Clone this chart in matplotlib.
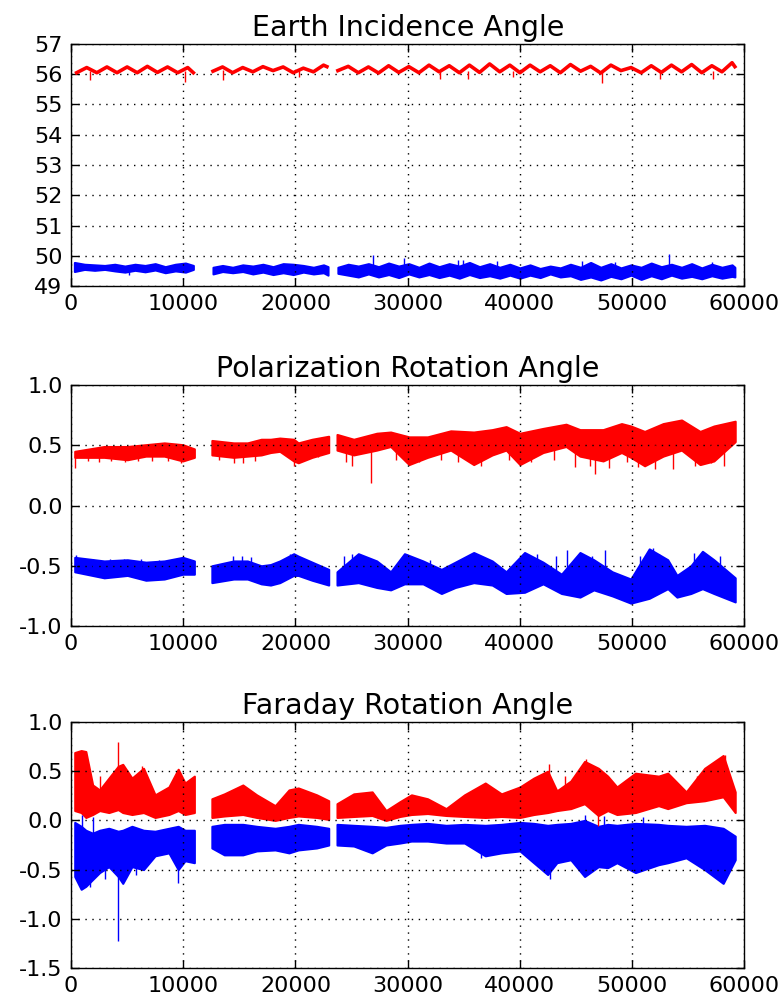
import numpy as np
import matplotlib
matplotlib.use("Agg")
import matplotlib.pyplot as plt

# ---------------- Earth Incidence Angle ----------------
eia_r_x1 = [500, 1400, 2300, 3200, 4100, 5000, 5900, 6800, 7700, 8600, 9500, 10400, 10900]
eia_r_y1 = [56.05, 56.22, 56.05, 56.24, 56.05, 56.24, 56.05, 56.26, 56.06, 56.24, 56.05, 56.22, 56.05]
eia_r_x2 = [12650, 13500, 14400, 15300, 16200, 17100, 18000, 18900, 19800, 20700, 21600, 22500, 22800]
eia_r_y2 = [56.10, 56.24, 56.05, 56.22, 56.08, 56.25, 56.12, 56.24, 56.05, 56.20, 56.08, 56.30, 56.25]
eia_r_x3 = [23780, 24700, 25600, 26500, 27400, 28300, 29200, 30100, 31000, 31900, 32800, 33700,
            34600, 35500, 36400, 37300, 38200, 39100, 40000, 40900, 41800, 42700, 43600, 44500,
            45400, 46300, 47200, 48100, 49000, 49900, 50800, 51700, 52600, 53500, 54400, 55300,
            56200, 57100, 58000, 58900, 59150]
eia_r_y3 = [56.12, 56.26, 56.05, 56.24, 56.04, 56.28, 56.06, 56.25, 56.05, 56.30, 56.08, 56.28,
            56.05, 56.30, 56.06, 56.34, 56.08, 56.30, 56.05, 56.30, 56.08, 56.28, 56.05, 56.32,
            56.10, 56.26, 56.04, 56.30, 56.12, 56.22, 56.05, 56.28, 56.06, 56.30, 56.08, 56.32,
            56.05, 56.28, 56.08, 56.38, 56.25]
eia_r_spk_x = [1700, 10150, 13500, 20300, 32900, 35400, 39400, 47300, 52500, 57200]
eia_r_spk_top = [56.10, 56.10, 56.15, 56.15, 56.10, 56.10, 56.10, 56.10, 56.10, 56.10]
eia_r_spk_bot = [55.80, 55.75, 55.82, 55.90, 55.85, 55.85, 55.90, 55.70, 55.85, 55.85]

eia_b_x1 = [300, 1200, 2100, 3000, 3900, 4800, 5700, 6600, 7500, 8400, 9300, 10200, 10900]
eia_b_hi1 = [49.78, 49.72, 49.70, 49.68, 49.72, 49.66, 49.72, 49.68, 49.74, 49.64, 49.72, 49.76, 49.68]
eia_b_lo1 = [49.48, 49.55, 49.52, 49.55, 49.50, 49.46, 49.52, 49.47, 49.53, 49.44, 49.50, 49.46, 49.55]
eia_b_x2 = [12650, 13500, 14400, 15300, 16200, 17100, 18000, 18900, 19800, 20700, 21600, 22500, 22900]
eia_b_hi2 = [49.62, 49.68, 49.62, 49.70, 49.66, 49.72, 49.64, 49.74, 49.72, 49.68, 49.62, 49.70, 49.64]
eia_b_lo2 = [49.40, 49.48, 49.44, 49.48, 49.40, 49.46, 49.38, 49.44, 49.38, 49.46, 49.40, 49.44, 49.36]
eia_b_x3 = eia_r_x3
eia_b_hi3 = [49.62, 49.72, 49.66, 49.74, 49.64, 49.76, 49.66, 49.74, 49.62, 49.76, 49.64, 49.74,
             49.66, 49.78, 49.64, 49.74, 49.62, 49.72, 49.60, 49.70, 49.58, 49.66, 49.60, 49.72,
             49.62, 49.78, 49.62, 49.74, 49.60, 49.70, 49.62, 49.76, 49.64, 49.72, 49.62, 49.74,
             49.60, 49.72, 49.62, 49.70, 49.62]
eia_b_lo3 = [49.42, 49.36, 49.30, 49.40, 49.30, 49.38, 49.28, 49.40, 49.30, 49.38, 49.28, 49.36,
             49.26, 49.38, 49.28, 49.34, 49.26, 49.36, 49.26, 49.36, 49.28, 49.40, 49.30, 49.34,
             49.22, 49.30, 49.20, 49.32, 49.24, 49.36, 49.22, 49.34, 49.24, 49.36, 49.26, 49.32,
             49.24, 49.34, 49.26, 49.32, 49.30]
eia_b_spk_x = [26900, 29700, 34500, 34900, 53300, 57100, 5200, 38000, 45500, 48500]
eia_b_spk_top = [50.02, 49.92, 49.87, 49.87, 50.05, 49.80, 49.55, 49.82, 49.82, 49.80]
eia_b_spk_bot = [49.60, 49.60, 49.60, 49.60, 49.60, 49.60, 49.35, 49.60, 49.60, 49.60]

# ---------------- Polarization Rotation Angle ----------------
pra_r_x1 = [330, 2960, 5020, 6670, 8310, 9960, 10990]
pra_r_hi1 = [0.45, 0.49, 0.49, 0.505, 0.52, 0.505, 0.47]
pra_r_lo1 = [0.40, 0.40, 0.38, 0.41, 0.41, 0.37, 0.40]
pra_r_x2 = [12550, 14490, 15720, 16950, 17780, 18600, 19840, 20250, 21480, 22960]
pra_r_hi2 = [0.54, 0.52, 0.52, 0.55, 0.55, 0.56, 0.55, 0.52, 0.55, 0.575]
pra_r_lo2 = [0.42, 0.40, 0.41, 0.42, 0.44, 0.45, 0.37, 0.355, 0.40, 0.44]
pra_r_x3 = [23700, 25190, 27240, 28480, 30120, 31770, 33830, 35880, 37530, 38770, 40000, 42060,
            44110, 45350, 47410, 49050, 49880, 51110, 52760, 54400, 56050, 57280, 59180]
pra_r_hi3 = [0.59, 0.55, 0.60, 0.61, 0.57, 0.57, 0.62, 0.61, 0.63, 0.655, 0.60, 0.64,
             0.675, 0.63, 0.63, 0.68, 0.66, 0.615, 0.68, 0.71, 0.615, 0.66, 0.70]
pra_r_lo3 = [0.46, 0.42, 0.46, 0.49, 0.34, 0.40, 0.46, 0.34, 0.42, 0.46, 0.34, 0.44,
             0.49, 0.41, 0.37, 0.44, 0.40, 0.33, 0.41, 0.46, 0.34, 0.37, 0.53]
pra_r_spk_x = [330, 1500, 2500, 3600, 4800, 6000, 7200, 8600, 9800, 13200, 14500, 15300, 16400,
               19900, 22000, 24500, 25000, 26700, 29000, 31000, 33000, 34500, 36500, 39000,
               41000, 43000, 44900, 46200, 46700, 47900, 49500, 50500, 52000, 53600, 55600,
               57000, 58200]
pra_r_spk_top = [0.42, 0.42, 0.42, 0.42, 0.42, 0.45, 0.45, 0.45, 0.42, 0.45, 0.45, 0.45, 0.45,
                 0.45, 0.48, 0.50, 0.50, 0.55, 0.50, 0.50, 0.50, 0.50, 0.50, 0.50, 0.50, 0.55,
                 0.55, 0.50, 0.45, 0.45, 0.50, 0.45, 0.50, 0.50, 0.50, 0.50, 0.50]
pra_r_spk_bot = [0.31, 0.37, 0.36, 0.37, 0.36, 0.37, 0.37, 0.37, 0.35, 0.38, 0.35, 0.35, 0.37,
                 0.33, 0.40, 0.36, 0.33, 0.19, 0.38, 0.36, 0.38, 0.36, 0.33, 0.38, 0.36, 0.38,
                 0.32, 0.33, 0.26, 0.31, 0.36, 0.32, 0.30, 0.30, 0.33, 0.35, 0.33]

pra_b_x1 = [330, 2960, 5020, 6670, 8310, 9960, 10990]
pra_b_hi1 = [-0.43, -0.46, -0.45, -0.47, -0.46, -0.43, -0.46]
pra_b_lo1 = [-0.55, -0.60, -0.58, -0.62, -0.61, -0.57, -0.57]
pra_b_x2 = [12550, 14490, 15720, 16950, 17780, 18600, 19840, 20250, 21480, 22960]
pra_b_hi2 = [-0.50, -0.46, -0.46, -0.50, -0.49, -0.46, -0.40, -0.42, -0.47, -0.53]
pra_b_lo2 = [-0.64, -0.61, -0.61, -0.65, -0.66, -0.64, -0.58, -0.58, -0.62, -0.66]
pra_b_x3 = [23700, 25600, 27240, 28480, 29710, 31360, 33000, 34240, 35880, 37530, 38770, 40410,
            42060, 43700, 45350, 46580, 48230, 49880, 51520, 53170, 53990, 55230, 56260, 57280, 59180]
pra_b_hi3 = [-0.55, -0.40, -0.46, -0.55, -0.40, -0.46, -0.53, -0.47, -0.39, -0.46, -0.55, -0.39,
             -0.47, -0.57, -0.39, -0.45, -0.55, -0.61, -0.36, -0.45, -0.58, -0.50, -0.38, -0.45, -0.60]
pra_b_lo3 = [-0.66, -0.64, -0.68, -0.70, -0.65, -0.65, -0.73, -0.68, -0.64, -0.66, -0.73, -0.72,
             -0.65, -0.73, -0.76, -0.70, -0.75, -0.81, -0.77, -0.69, -0.76, -0.73, -0.69, -0.73, -0.80]
pra_b_spk_x = [400, 2000, 3500, 4700, 6200, 7800, 14400, 15200, 16000, 19500, 24300, 25000,
               29900, 32000, 41500, 43200, 44200, 46400, 47600, 50700, 51900, 55500, 52400, 57800]
pra_b_spk_top = [-0.41, -0.44, -0.44, -0.44, -0.44, -0.45, -0.42, -0.42, -0.43, -0.40, -0.42,
                 -0.40, -0.40, -0.45, -0.40, -0.42, -0.37, -0.42, -0.37, -0.42, -0.35, -0.39,
                 -0.40, -0.42]
pra_b_spk_bot = [-0.52, -0.55, -0.55, -0.55, -0.55, -0.58, -0.55, -0.55, -0.58, -0.50, -0.55,
                 -0.55, -0.55, -0.55, -0.55, -0.60, -0.60, -0.60, -0.60, -0.65, -0.55, -0.55,
                 -0.65, -0.60]

# ---------------- Faraday Rotation Angle ----------------
fra_x1 = [330, 905, 1320, 1930, 2550, 3370, 4200, 4610, 5430, 6460, 7490, 8720, 9550, 10160, 10990]
fra_r_hi1 = [0.69, 0.71, 0.70, 0.36, 0.31, 0.43, 0.55, 0.57, 0.43, 0.53, 0.26, 0.34, 0.52, 0.38, 0.45]
fra_r_lo1 = [0.10, 0.08, 0.03, 0.06, 0.10, 0.08, 0.11, 0.08, 0.06, 0.08, 0.03, 0.06, 0.10, 0.06, 0.08]
fra_b_hi1 = [-0.02, -0.06, -0.10, -0.13, -0.10, -0.08, -0.11, -0.10, -0.06, -0.10, -0.11, -0.08,
             -0.06, -0.10, -0.10]
fra_b_lo1 = [-0.57, -0.70, -0.67, -0.60, -0.53, -0.47, -0.57, -0.64, -0.47, -0.50, -0.36, -0.33,
             -0.50, -0.41, -0.43]
fra_x2 = [12550, 13660, 15310, 16540, 18190, 19420, 20250, 21890, 22960]
fra_r_hi2 = [0.22, 0.27, 0.36, 0.26, 0.15, 0.31, 0.33, 0.26, 0.20]
fra_r_lo2 = [0.03, 0.045, 0.06, 0.03, 0.00, 0.03, 0.045, 0.03, 0.01]
fra_b_hi2 = [-0.06, -0.04, -0.04, -0.06, -0.08, -0.06, -0.04, -0.06, -0.08]
fra_b_lo2 = [-0.28, -0.35, -0.35, -0.31, -0.30, -0.33, -0.30, -0.28, -0.25]
fra_x3 = [23700, 25190, 26830, 28070, 29300, 30330, 31770, 33420, 35060, 36910, 38350, 40000,
          41230, 42470, 43290, 44530, 45760, 46990, 47820, 48640, 50290, 52350, 53170, 54810,
          56460, 58110, 59180]
fra_r_hi3 = [0.17, 0.27, 0.29, 0.10, 0.19, 0.26, 0.22, 0.12, 0.26, 0.38, 0.27, 0.34,
             0.43, 0.50, 0.30, 0.40, 0.60, 0.53, 0.45, 0.34, 0.48, 0.45, 0.48, 0.29,
             0.53, 0.66, 0.29]
fra_r_lo3 = [0.03, 0.04, 0.05, 0.00, 0.04, 0.06, 0.07, 0.05, 0.04, 0.03, 0.04, 0.03,
             0.06, 0.08, 0.10, 0.12, 0.17, 0.05, 0.10, 0.06, 0.08, 0.15, 0.12, 0.18,
             0.20, 0.24, 0.08]
fra_b_hi3 = [-0.04, -0.05, -0.06, -0.07, -0.05, -0.04, -0.03, -0.05, -0.04, -0.05, -0.04, -0.02,
             -0.03, -0.05, -0.04, -0.03, 0.00, -0.06, -0.04, -0.05, -0.03, -0.04, -0.05, -0.06,
             -0.05, -0.08, -0.16]
fra_b_lo3 = [-0.25, -0.26, -0.33, -0.25, -0.23, -0.21, -0.21, -0.23, -0.23, -0.36, -0.33, -0.31,
             -0.43, -0.55, -0.43, -0.40, -0.57, -0.47, -0.48, -0.43, -0.53, -0.45, -0.43, -0.38,
             -0.50, -0.64, -0.40]
fra_r_spk_x = [4200, 1000, 42600, 45900, 41800, 47000, 58300, 2600, 6300, 9500, 44000, 55800]
fra_r_spk_top = [0.80, 0.70, 0.57, 0.62, 0.45, 0.10, 0.66, 0.45, 0.55, 0.52, 0.45, 0.45]
fra_r_spk_bot = [0.40, 0.40, 0.30, 0.30, 0.20, -0.06, 0.30, 0.20, 0.30, 0.30, 0.20, 0.25]
fra_b_spk_x = [4200, 1700, 9550, 1000, 2000, 45800, 47500, 51000, 36500, 42700, 3000, 5800]
fra_b_spk_top = [-0.40, -0.40, -0.30, 0.05, 0.03, 0.05, 0.04, 0.03, -0.10, -0.30, -0.40, -0.40]
fra_b_spk_bot = [-1.23, -0.68, -0.64, -0.20, -0.20, -0.20, -0.20, -0.20, -0.38, -0.60, -0.60, -0.55]

xticks = [0, 10000, 20000, 30000, 40000, 50000, 60000]
titles = ["Earth Incidence Angle", "Polarization Rotation Angle", "Faraday Rotation Angle"]

plt.rcParams["font.family"] = ["DejaVu Sans"]
plt.rcParams["axes.unicode_minus"] = False

fig = plt.figure(figsize=(7.83, 9.97), dpi=100, facecolor="white")
L, W = 0.0907, 0.8600
ax1 = fig.add_axes([L, 0.7131, W, 0.2428])
ax2 = fig.add_axes([L, 0.3721, W, 0.2417])
ax3 = fig.add_axes([L, 0.0291, W, 0.2467])


def band(ax, x, lo, hi, color):
    ax.fill_between(x, lo, hi, color=color, linewidth=1.5, edgecolor=color)


def spikes(ax, x, top, bot, color):
    ax.vlines(x, bot, top, color=color, linewidth=1.0)


# panel 1
for x, y in [(eia_r_x1, eia_r_y1), (eia_r_x2, eia_r_y2), (eia_r_x3, eia_r_y3)]:
    ax1.plot(x, y, color="r", linewidth=2.6)
spikes(ax1, eia_r_spk_x, eia_r_spk_top, eia_r_spk_bot, "r")
for x, lo, hi in [(eia_b_x1, eia_b_lo1, eia_b_hi1), (eia_b_x2, eia_b_lo2, eia_b_hi2),
                  (eia_b_x3, eia_b_lo3, eia_b_hi3)]:
    band(ax1, x, lo, hi, "b")
spikes(ax1, eia_b_spk_x, eia_b_spk_top, eia_b_spk_bot, "b")
ax1.set_ylim(49, 57)
ax1.set_yticks(range(49, 58))

# panel 2
for x, lo, hi in [(pra_r_x1, pra_r_lo1, pra_r_hi1), (pra_r_x2, pra_r_lo2, pra_r_hi2),
                  (pra_r_x3, pra_r_lo3, pra_r_hi3)]:
    band(ax2, x, lo, hi, "r")
spikes(ax2, pra_r_spk_x, pra_r_spk_top, pra_r_spk_bot, "r")
for x, lo, hi in [(pra_b_x1, pra_b_lo1, pra_b_hi1), (pra_b_x2, pra_b_lo2, pra_b_hi2),
                  (pra_b_x3, pra_b_lo3, pra_b_hi3)]:
    band(ax2, x, lo, hi, "b")
spikes(ax2, pra_b_spk_x, pra_b_spk_top, pra_b_spk_bot, "b")
ax2.set_ylim(-1.0, 1.0)
ax2.set_yticks([-1.0, -0.5, 0.0, 0.5, 1.0])

# panel 3
for x, lo, hi in [(fra_x1, fra_r_lo1, fra_r_hi1), (fra_x2, fra_r_lo2, fra_r_hi2),
                  (fra_x3, fra_r_lo3, fra_r_hi3)]:
    band(ax3, x, lo, hi, "r")
spikes(ax3, fra_r_spk_x, fra_r_spk_top, fra_r_spk_bot, "r")
for x, lo, hi in [(fra_x1, fra_b_lo1, fra_b_hi1), (fra_x2, fra_b_lo2, fra_b_hi2),
                  (fra_x3, fra_b_lo3, fra_b_hi3)]:
    band(ax3, x, lo, hi, "b")
spikes(ax3, fra_b_spk_x, fra_b_spk_top, fra_b_spk_bot, "b")
ax3.set_ylim(-1.5, 1.0)
ax3.set_yticks([-1.5, -1.0, -0.5, 0.0, 0.5, 1.0])

for ax, t in zip([ax1, ax2, ax3], titles):
    ax.set_xlim(0, 60000)
    ax.set_xticks(xticks)
    ax.set_title(t, fontsize=20.5, pad=6)
    ax.grid(True, color="k", linestyle=(0, (1, 4)), linewidth=1.0)
    ax.tick_params(direction="in", top=True, right=True, length=6, width=1,
                   labelsize=16, pad=6)
    for s in ax.spines.values():
        s.set_linewidth(1.0)
        s.set_color("k")
for ax in [ax2, ax3]:
    ax.yaxis.set_major_formatter(matplotlib.ticker.FormatStrFormatter("%.1f"))

fig.savefig("out.png", dpi=100, facecolor="white")
